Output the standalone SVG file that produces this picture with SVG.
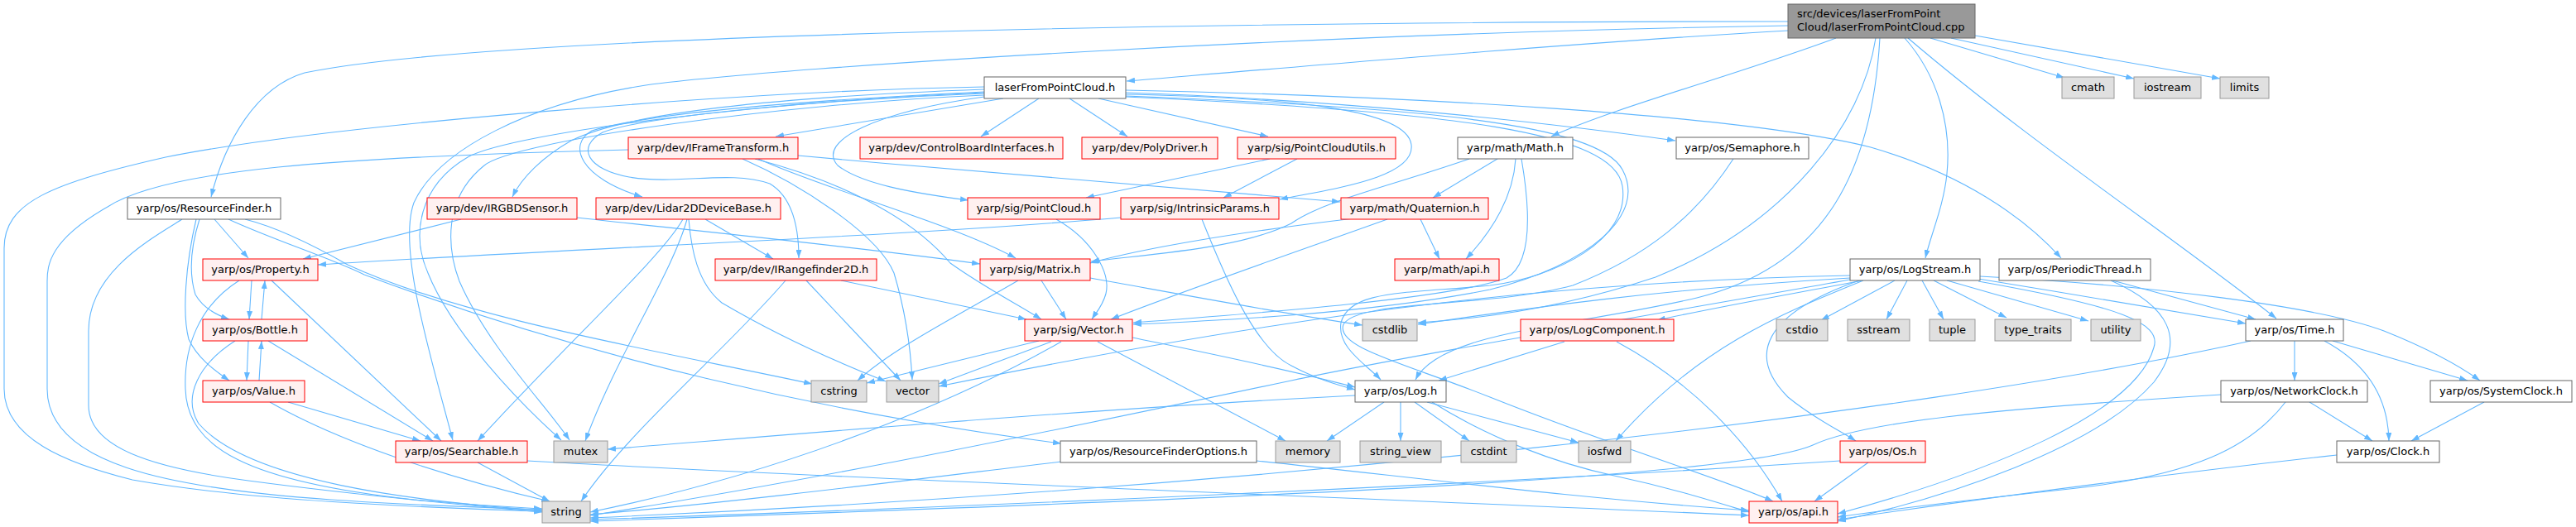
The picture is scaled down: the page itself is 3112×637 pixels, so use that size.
<svg xmlns="http://www.w3.org/2000/svg" width="3112" height="637" viewBox="0 0 3112 637">
<style>
text{font-family:"DejaVu Sans","Liberation Sans",sans-serif;font-size:13px;fill:#000;text-anchor:middle}
.root rect{fill:#999999;stroke:#666666;stroke-width:1}
.wh rect{fill:#ffffff;stroke:#666666;stroke-width:1}
.rd rect{fill:#fff0f0;stroke:#ff0000;stroke-width:1}
.gy rect{fill:#e0e0e0;stroke:#999999;stroke-width:1}
#edges path{fill:none;stroke:#63b8ff;stroke-width:1.1;marker-end:url(#ah)}
</style>
<defs>
<marker id="ah" viewBox="0 0 10 7" refX="10" refY="3.5" markerWidth="10" markerHeight="7" markerUnits="userSpaceOnUse" orient="auto"><path d="M0,0L10,3.5L0,7z" fill="#63b8ff"/></marker>
</defs>
<rect width="3112" height="637" fill="#ffffff"/>
<g id="edges">
<path d="M2160,37 C1900,52 1600,78 1361,98"/>
<path d="M2160,26 C1500,26 600,40 368,88 C310,105 272,170 255,238"/>
<path d="M2218,46 C2100,90 1950,130 1874,165"/>
<path d="M2301,46 C2340,90 2358,150 2352,210 C2348,250 2332,285 2326,312"/>
<path d="M2305,46 C2450,170 2630,290 2750,385"/>
<path d="M2332,46 L2494,94"/>
<path d="M2357,46 L2578,95"/>
<path d="M2386,43 L2682,95"/>
<path d="M2266,46 C2250,150 2160,270 2000,335 C1880,375 1780,386 1713,390"/>
<path d="M2271,46 C2262,200 2210,320 2050,360 C1900,395 1740,400 1710,459"/>
<path d="M2160,31 C1600,40 950,80 780,103 C640,125 530,180 500,245 C480,300 520,430 547,532"/>
<path d="M1212,119 L937,165"/>
<path d="M1255,119 L1185,165"/>
<path d="M1292,119 L1362,165"/>
<path d="M1327,119 L1532,165"/>
<path d="M1189,117 C1060,135 985,170 1012,200 C1040,222 1100,233 1170,242"/>
<path d="M1189,108 C1000,115 770,130 690,170 C655,190 630,215 619,238"/>
<path d="M1189,111 C1000,120 790,135 715,158 C685,175 700,215 776,238"/>
<path d="M1189,105 C900,110 400,150 200,190 C60,222 5,245 5,300 L5,470 C5,530 80,560 160,580 C300,605 500,613 655,618"/>
<path d="M1189,113 C930,122 620,160 565,190 C505,225 497,285 517,330 C545,400 625,485 678,532"/>
<path d="M1189,115 C950,125 620,170 585,200 C535,240 540,300 555,340 C590,420 660,490 688,532"/>
<path d="M1360,112 C1600,120 1850,145 2024,170"/>
<path d="M1360,109 C1700,116 2100,138 2260,178 C2370,210 2445,262 2490,312"/>
<path d="M1360,114 C1560,118 1700,132 1705,175 C1710,215 1610,228 1546,241"/>
<path d="M1360,116 C1720,130 1930,150 1960,205 C1990,260 1920,320 1800,350 C1650,380 1460,388 1369,392"/>
<path d="M1360,117 C1760,135 1950,160 1960,225 C1970,290 1880,335 1800,345 C1700,355 1630,350 1620,390 C1615,420 1650,440 1668,459"/>
<path d="M1189,112 C1000,120 780,140 728,160 C695,178 710,205 760,214 C820,224 880,205 930,222 C960,240 965,280 965,312"/>
<path d="M964,188 C1200,210 1450,228 1619,244"/>
<path d="M916,192 C1000,230 1150,270 1227,312"/>
<path d="M912,192 C1000,215 1095,255 1148,318 C1190,348 1230,368 1258,386"/>
<path d="M897,192 C965,222 1060,282 1080,330 C1095,380 1100,420 1102,459"/>
<path d="M759,181 C400,190 200,205 130,250 C60,290 57,320 57,340 L57,470 C57,560 200,590 400,604 C500,611 600,614 655,616"/>
<path d="M259,265 L300,312"/>
<path d="M241,265 C230,300 228,330 236,356 C245,372 262,381 277,386"/>
<path d="M237,265 C224,320 220,380 228,410 C238,432 258,447 277,460"/>
<path d="M220,265 C180,290 107,330 107,400 L107,490 C107,540 180,565 300,581 C450,601 580,612 655,619"/>
<path d="M296,265 C340,276 385,300 420,320 C560,385 800,425 981,464"/>
<path d="M276,265 C330,290 400,312 440,332 C700,430 1000,500 1282,536"/>
<path d="M557,265 L366,313"/>
<path d="M697,263 C850,280 1050,300 1184,319"/>
<path d="M852,265 L934,313"/>
<path d="M825,265 C800,310 690,410 577,533"/>
<path d="M830,265 C812,330 745,430 707,533"/>
<path d="M832,265 C835,300 842,342 872,366 C950,412 1022,442 1070,461"/>
<path d="M1016,339 L1240,386"/>
<path d="M974,339 L1088,460"/>
<path d="M949,339 C880,420 760,520 702,606"/>
<path d="M1258,339 L1288,386"/>
<path d="M1230,339 C1160,380 1080,420 1036,460"/>
<path d="M1317,336 C1450,360 1550,379 1646,393"/>
<path d="M1255,412 L1047,463"/>
<path d="M1270,413 L1134,464"/>
<path d="M1282,413 C1200,460 1000,560 713,619"/>
<path d="M1326,413 L1553,533"/>
<path d="M1368,408 C1450,425 1550,445 1637,468"/>
<path d="M1276,265 C1320,290 1342,330 1336,355 C1332,370 1324,378 1319,386"/>
<path d="M1534,192 L1312,239"/>
<path d="M1567,192 L1478,239"/>
<path d="M1354,263 C1100,285 700,300 384,320"/>
<path d="M1452,265 C1478,330 1515,420 1560,442 C1590,458 1615,465 1637,471"/>
<path d="M1716,265 L1739,313"/>
<path d="M1676,265 C1550,310 1420,355 1342,386"/>
<path d="M1636,264 C1500,280 1380,300 1317,318"/>
<path d="M1809,192 L1731,239"/>
<path d="M1831,192 C1828,240 1800,282 1771,313"/>
<path d="M1775,192 C1680,225 1600,242 1560,270 C1500,300 1400,306 1318,316"/>
<path d="M1838,192 C1848,250 1852,318 1820,336 C1750,362 1500,380 1369,390"/>
<path d="M2250,339 C2150,358 2080,370 2002,387"/>
<path d="M2289,339 L2200,387"/>
<path d="M2304,339 L2279,386"/>
<path d="M2322,339 L2348,386"/>
<path d="M2336,339 L2424,384"/>
<path d="M2352,339 L2523,388"/>
<path d="M2390,337 C2500,355 2620,375 2713,391"/>
<path d="M2392,334 C2600,345 2800,370 2880,400 C2930,420 2968,440 2996,460"/>
<path d="M2390,340 C2560,370 2612,390 2602,420 C2580,500 2400,572 2220,621"/>
<path d="M2246,339 C2130,380 2110,430 2160,480 C2190,505 2222,520 2242,533"/>
<path d="M2251,339 C2150,380 2050,420 1952,533"/>
<path d="M2235,336 C2000,350 1850,372 1713,392"/>
<path d="M2235,333 C1900,340 1600,372 1134,467"/>
<path d="M2235,338 C2000,380 1700,430 1560,460 C1300,515 1000,578 713,623"/>
<path d="M1890,413 L1738,460"/>
<path d="M1953,413 C2040,460 2110,530 2153,606"/>
<path d="M1672,486 L1603,533"/>
<path d="M1692,486 L1692,533"/>
<path d="M1709,486 L1775,533"/>
<path d="M1724,486 L1907,535"/>
<path d="M1730,486 C1800,530 1880,560 1950,575 C2020,590 2070,606 2113,619"/>
<path d="M1637,478 C1300,495 900,530 734,543"/>
<path d="M2257,559 L2192,606"/>
<path d="M2223,557 C1800,585 1200,612 713,628"/>
<path d="M577,559 L664,606"/>
<path d="M637,557 C1000,578 1700,604 2113,623"/>
<path d="M1282,558 C1100,580 900,606 713,622"/>
<path d="M1518,557 C1700,576 1900,602 2113,617"/>
<path d="M348,486 L508,533"/>
<path d="M326,486 C420,540 560,582 664,606"/>
<path d="M313,460 L316,412"/>
<path d="M316,386 L320,339"/>
<path d="M300,412 L298,460"/>
<path d="M324,412 L523,533"/>
<path d="M284,412 C240,440 220,480 240,512 C300,582 500,606 655,617"/>
<path d="M304,339 L301,386"/>
<path d="M328,339 L533,533"/>
<path d="M289,339 C240,370 222,420 224,470 C226,542 300,582 500,604 C580,611 620,613 655,615"/>
<path d="M2772,412 L2772,460"/>
<path d="M2818,412 L2981,460"/>
<path d="M2808,412 C2860,440 2885,480 2886,533"/>
<path d="M2719,412 C2300,505 1500,592 713,626"/>
<path d="M2790,486 L2866,533"/>
<path d="M2683,477 C2400,495 2250,510 2190,538 C2100,578 1500,603 713,630"/>
<path d="M2761,486 C2720,540 2650,575 2500,591 C2400,602 2300,613 2220,625"/>
<path d="M3001,486 L2913,533"/>
<path d="M2823,550 C2600,575 2400,602 2220,628"/>
<path d="M2552,339 L2725,386"/>
<path d="M2550,339 C2620,370 2642,410 2602,462 C2532,542 2350,602 2220,630"/>
<path d="M2094,192 C2050,260 1990,310 1900,345 C1800,372 1640,362 1623,392 C1612,420 1700,440 1800,480 C1950,540 2085,580 2142,606"/>
</g>
<g id="n_cpp" class="root"><rect x="2160" y="5" width="226" height="41"/><text x="2171" y="21" style="text-anchor:start">src/devices/laserFromPoint</text><text x="2171" y="37" style="text-anchor:start">Cloud/laserFromPointCloud.cpp</text></g>
<g id="n_lfpc" class="wh"><rect x="1189" y="93" width="171" height="26"/><text x="1274.5" y="110">laserFromPointCloud.h</text></g>
<g id="n_cmath" class="gy"><rect x="2491" y="93" width="63" height="26"/><text x="2522.5" y="110">cmath</text></g>
<g id="n_iostream" class="gy"><rect x="2578" y="93" width="81" height="26"/><text x="2618.5" y="110">iostream</text></g>
<g id="n_limits" class="gy"><rect x="2682" y="93" width="59" height="26"/><text x="2711.5" y="110">limits</text></g>
<g id="n_ift" class="rd"><rect x="759" y="166" width="205" height="26"/><text x="861.5" y="183">yarp/dev/IFrameTransform.h</text></g>
<g id="n_cbi" class="rd"><rect x="1039" y="166" width="245" height="26"/><text x="1161.5" y="183">yarp/dev/ControlBoardInterfaces.h</text></g>
<g id="n_pd" class="rd"><rect x="1307" y="166" width="164" height="26"/><text x="1389" y="183">yarp/dev/PolyDriver.h</text></g>
<g id="n_pcu" class="rd"><rect x="1495" y="166" width="191" height="26"/><text x="1590.5" y="183">yarp/sig/PointCloudUtils.h</text></g>
<g id="n_math" class="wh"><rect x="1761" y="166" width="139" height="26"/><text x="1830.5" y="183">yarp/math/Math.h</text></g>
<g id="n_sem" class="wh"><rect x="2025" y="166" width="160" height="26"/><text x="2105" y="183">yarp/os/Semaphore.h</text></g>
<g id="n_rf" class="wh"><rect x="154" y="239" width="185" height="26"/><text x="246.5" y="256">yarp/os/ResourceFinder.h</text></g>
<g id="n_irgbd" class="rd"><rect x="516" y="239" width="181" height="26"/><text x="606.5" y="256">yarp/dev/IRGBDSensor.h</text></g>
<g id="n_lidar" class="rd"><rect x="720" y="239" width="223" height="26"/><text x="831.5" y="256">yarp/dev/Lidar2DDeviceBase.h</text></g>
<g id="n_pc" class="rd"><rect x="1169" y="239" width="160" height="26"/><text x="1249" y="256">yarp/sig/PointCloud.h</text></g>
<g id="n_ip" class="rd"><rect x="1354" y="239" width="191" height="26"/><text x="1449.5" y="256">yarp/sig/IntrinsicParams.h</text></g>
<g id="n_quat" class="rd"><rect x="1620" y="239" width="178" height="26"/><text x="1709" y="256">yarp/math/Quaternion.h</text></g>
<g id="n_prop" class="rd"><rect x="245" y="313" width="139" height="26"/><text x="314.5" y="330">yarp/os/Property.h</text></g>
<g id="n_irf" class="rd"><rect x="864" y="313" width="195" height="26"/><text x="961.5" y="330">yarp/dev/IRangefinder2D.h</text></g>
<g id="n_mat" class="rd"><rect x="1184" y="313" width="133" height="26"/><text x="1250.5" y="330">yarp/sig/Matrix.h</text></g>
<g id="n_mapi" class="rd"><rect x="1685" y="313" width="126" height="26"/><text x="1748" y="330">yarp/math/api.h</text></g>
<g id="n_ls" class="wh"><rect x="2235" y="313" width="157" height="26"/><text x="2313.5" y="330">yarp/os/LogStream.h</text></g>
<g id="n_pt" class="wh"><rect x="2415" y="313" width="183" height="26"/><text x="2506.5" y="330">yarp/os/PeriodicThread.h</text></g>
<g id="n_bottle" class="rd"><rect x="245" y="386" width="126" height="26"/><text x="308" y="403">yarp/os/Bottle.h</text></g>
<g id="n_vec" class="rd"><rect x="1238" y="386" width="130" height="26"/><text x="1303" y="403">yarp/sig/Vector.h</text></g>
<g id="n_cstdlib" class="gy"><rect x="1646" y="386" width="66" height="26"/><text x="1679" y="403">cstdlib</text></g>
<g id="n_lc" class="rd"><rect x="1837" y="386" width="185" height="26"/><text x="1929.5" y="403">yarp/os/LogComponent.h</text></g>
<g id="n_cstdio" class="gy"><rect x="2146" y="386" width="62" height="26"/><text x="2177" y="403">cstdio</text></g>
<g id="n_sstream" class="gy"><rect x="2232" y="386" width="75" height="26"/><text x="2269.5" y="403">sstream</text></g>
<g id="n_tuple" class="gy"><rect x="2331" y="386" width="55" height="26"/><text x="2358.5" y="403">tuple</text></g>
<g id="n_tt" class="gy"><rect x="2410" y="386" width="92" height="26"/><text x="2456" y="403">type_traits</text></g>
<g id="n_utility" class="gy"><rect x="2526" y="386" width="60" height="26"/><text x="2556" y="403">utility</text></g>
<g id="n_time" class="wh"><rect x="2713" y="386" width="118" height="26"/><text x="2772" y="403">yarp/os/Time.h</text></g>
<g id="n_value" class="rd"><rect x="245" y="460" width="123" height="26"/><text x="306.5" y="477">yarp/os/Value.h</text></g>
<g id="n_cstring" class="gy"><rect x="980" y="460" width="67" height="26"/><text x="1013.5" y="477">cstring</text></g>
<g id="n_vector" class="gy"><rect x="1071" y="460" width="63" height="26"/><text x="1102.5" y="477">vector</text></g>
<g id="n_log" class="wh"><rect x="1637" y="460" width="110" height="26"/><text x="1692" y="477">yarp/os/Log.h</text></g>
<g id="n_nc" class="wh"><rect x="2683" y="460" width="177" height="26"/><text x="2771.5" y="477">yarp/os/NetworkClock.h</text></g>
<g id="n_sc" class="wh"><rect x="2936" y="460" width="171" height="26"/><text x="3021.5" y="477">yarp/os/SystemClock.h</text></g>
<g id="n_search" class="rd"><rect x="478" y="533" width="159" height="26"/><text x="557.5" y="550">yarp/os/Searchable.h</text></g>
<g id="n_mutex" class="gy"><rect x="669" y="533" width="65" height="26"/><text x="701.5" y="550">mutex</text></g>
<g id="n_rfo" class="wh"><rect x="1281" y="533" width="237" height="26"/><text x="1399.5" y="550">yarp/os/ResourceFinderOptions.h</text></g>
<g id="n_memory" class="gy"><rect x="1541" y="533" width="78" height="26"/><text x="1580" y="550">memory</text></g>
<g id="n_sv" class="gy"><rect x="1643" y="533" width="98" height="26"/><text x="1692" y="550">string_view</text></g>
<g id="n_cstdint" class="gy"><rect x="1765" y="533" width="67" height="26"/><text x="1798.5" y="550">cstdint</text></g>
<g id="n_iosfwd" class="gy"><rect x="1907" y="533" width="63" height="26"/><text x="1938.5" y="550">iosfwd</text></g>
<g id="n_os" class="rd"><rect x="2223" y="533" width="103" height="26"/><text x="2274.5" y="550">yarp/os/Os.h</text></g>
<g id="n_clock" class="wh"><rect x="2823" y="533" width="124" height="26"/><text x="2885" y="550">yarp/os/Clock.h</text></g>
<g id="n_string" class="gy"><rect x="655" y="606" width="58" height="26"/><text x="684" y="623">string</text></g>
<g id="n_api" class="rd"><rect x="2113" y="606" width="107" height="26"/><text x="2166.5" y="623">yarp/os/api.h</text></g>
</svg>
